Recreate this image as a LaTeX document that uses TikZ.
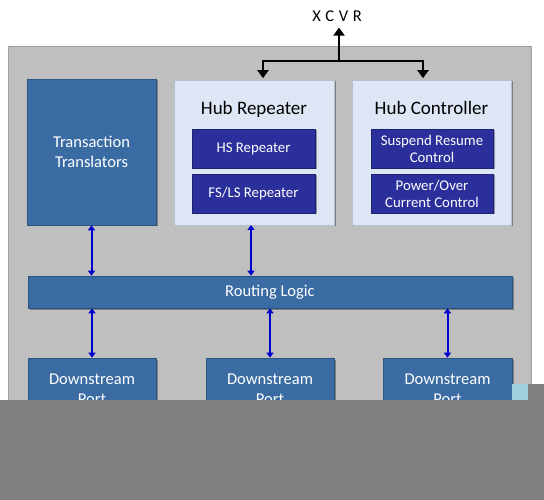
\documentclass[tikz,border=0pt]{standalone}
\usepackage{fontspec}
\setmainfont{Carlito}
\usetikzlibrary{arrows.meta,shadows}
\definecolor{outergray}{HTML}{BFBFBF}
\definecolor{outerline}{HTML}{A0A0A0}
\definecolor{steelblue}{HTML}{3A6CA3}
\definecolor{steelline}{HTML}{2C5482}
\definecolor{lightbox}{HTML}{DCE6F4}
\definecolor{lightline}{HTML}{B4C0D2}
\definecolor{darkblue}{HTML}{2A2F9B}
\definecolor{darkline}{HTML}{1E2273}
\definecolor{arrowblue}{HTML}{0000CC}
\definecolor{occgray}{HTML}{808080}
\definecolor{occblue}{HTML}{A0CFDF}
\tikzset{
  shad/.style={drop shadow={shadow xshift=1.5pt,shadow yshift=-1.5pt,opacity=0.35,fill=black}},
  midbox/.style={rectangle,fill=steelblue,draw=steelline,line width=0.6pt,text=white,align=center,inner sep=0pt,shad,font=\fontsize{16.5}{20}\selectfont},
  lightpanel/.style={rectangle,fill=lightbox,draw=lightline,line width=0.6pt,inner sep=0pt,shad},
  darkbox/.style={rectangle,fill=darkblue,draw=darkline,line width=0.6pt,text=white,align=center,inner sep=0pt,shad,font=\fontsize{14.8}{17}\selectfont,minimum height=39pt},
  title/.style={font=\fontsize{19}{22}\selectfont,text=black,inner sep=0pt},
  blk/.style={line width=2.6pt,draw=black},
  blkarrow/.style={blk,-{Triangle[width=11pt,length=8pt]}},
  bluearrow/.style={line width=2pt,draw=arrowblue,{Triangle[width=7pt,length=5pt]}-{Triangle[width=7pt,length=5pt]}},
}
\begin{document}
\begin{tikzpicture}[x=1pt,y=-1pt]
\useasboundingbox (0,0) rectangle (544,500);
\fill[white] (0,0) rectangle (544,500);
% outer panel
\node[rectangle,fill=outergray,draw=outerline,line width=1pt,minimum width=523pt,minimum height=380pt,inner sep=0pt] (outer) at (269.5,237) {};
% XCVR
\node[font=\fontsize{16.5}{19}\selectfont,inner sep=0pt] (xcvr) at (337,16) {X\hspace{4.6pt}C\hspace{4.6pt}V\hspace{4.6pt}R};
% top row
\node[midbox,minimum width=129pt,minimum height=146pt] (tt) at (91.5,152) {Transaction\\Translators};
\node[lightpanel,minimum width=160pt,minimum height=145pt] (hr) at (254,152.5) {};
\node[lightpanel,minimum width=159pt,minimum height=145pt] (hc) at (431.5,152.5) {};
\node[title] (hrt) at (254,109) {Hub Repeater};
\node[title] (hct) at (431.5,108) {Hub Controller};
\node[darkbox,minimum width=123pt] (hs) at (253.5,148.5) {HS Repeater};
\node[darkbox,minimum width=123pt] (fs) at (253.5,193.5) {FS/LS Repeater};
\node[darkbox,minimum width=122pt] (sr) at (432,148.5) {Suspend Resume\\Control};
\node[darkbox,minimum width=122pt] (pc) at (432,193.5) {Power/Over\\Current Control};
% routing logic
\node[midbox,minimum width=484pt,minimum height=32pt] (rl) at (270,292) {Routing Logic};
% downstream ports
\node[midbox,minimum width=128pt,minimum height=62pt] (dp1) at (92,389) {Downstream\\Port};
\node[midbox,minimum width=128pt,minimum height=62pt] (dp2) at (270,389) {Downstream\\Port};
\node[midbox,minimum width=129pt,minimum height=62pt] (dp3) at (447.5,389) {Downstream\\Port};
% XCVR bus
\coordinate (junc) at (339,61);
\coordinate (jl) at (263,61);
\coordinate (jr) at (423,61);
\draw[blkarrow,shorten >=6pt] (junc) -- (junc |- xcvr.south);
\draw[blk,line cap=rect] (jl) -- (jr);
\draw[blkarrow,shorten >=1.5pt] (jl) -- (jl |- hr.north);
\draw[blkarrow,shorten >=1.5pt] (jr) -- (jr |- hc.north);
% blue connectors
\coordinate (hrs) at (251,225);
\draw[bluearrow] (tt.south) -- (tt.south |- rl.north);
\draw[bluearrow] (hrs) -- (hrs |- rl.north);
\draw[bluearrow] (dp1.north |- rl.south) -- (dp1.north);
\draw[bluearrow] (dp2.north |- rl.south) -- (dp2.north);
\draw[bluearrow] (dp3.north |- rl.south) -- (dp3.north);
% occluding block at the bottom
\fill[occgray] (0,400) rectangle (544,500);
\fill[occgray] (528,384) rectangle (544,400);
\fill[occblue] (512,384) rectangle (528,400);
\end{tikzpicture}
\end{document}
